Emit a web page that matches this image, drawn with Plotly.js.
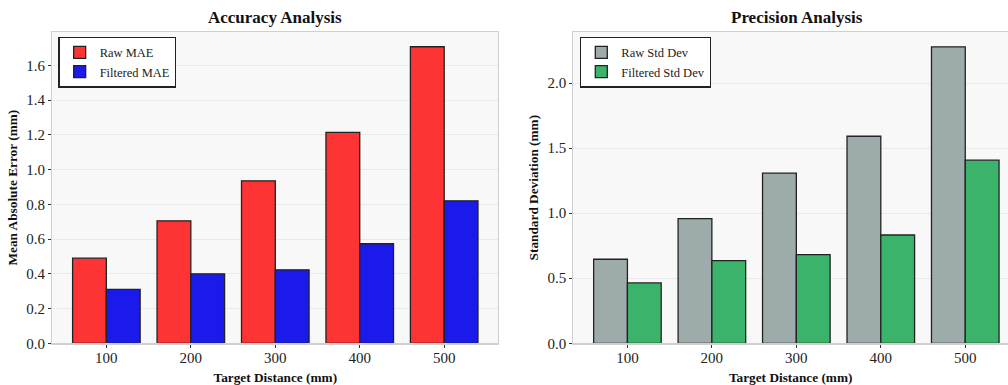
<!DOCTYPE html>
<html>
<head>
<meta charset="utf-8">
<script src="https://cdn.plot.ly/plotly-3.0.1.min.js"></script>
<style>html,body{margin:0;padding:0;background:#fff;}#chart{width:1008px;height:385px;}</style>
</head>
<body>
<div id="chart"></div>
<script>
const distances = ['100', '200', '300', '400', '500'];
const rawMAE = [0.49, 0.705, 0.935, 1.214, 1.707];
const filteredMAE = [0.31, 0.40, 0.423, 0.573, 0.82];
const rawStd = [0.646, 0.958, 1.307, 1.591, 2.278];
const filteredStd = [0.464, 0.636, 0.682, 0.832, 1.407];

const serif = 'Liberation Serif, Times New Roman, serif';
const edge = {color: '#222222', width: 1.3};

const traces = [
  {type: 'bar', name: 'Raw MAE', x: distances, y: rawMAE, xaxis: 'x', yaxis: 'y', legend: 'legend',
   marker: {color: '#fe3333', line: edge}},
  {type: 'bar', name: 'Filtered MAE', x: distances, y: filteredMAE, xaxis: 'x', yaxis: 'y', legend: 'legend',
   marker: {color: '#1a1aeb', line: edge}},
  {type: 'bar', name: 'Raw Std Dev', x: distances, y: rawStd, xaxis: 'x2', yaxis: 'y2', legend: 'legend2',
   marker: {color: '#9eabab', line: edge}},
  {type: 'bar', name: 'Filtered Std Dev', x: distances, y: filteredStd, xaxis: 'x2', yaxis: 'y2', legend: 'legend2',
   marker: {color: '#3bb36b', line: edge}}
];

const tickFont = {family: serif, size: 15, color: '#222'};
const axTitleFont = {family: serif, size: 13.3, color: '#111', weight: 'bold'};

function xAxis(domain, range, anchor) {
  return {
    domain: domain, range: range, anchor: anchor, type: 'category',
    showgrid: false, zeroline: false,
    showline: true, linecolor: '#cfcfcf', linewidth: 1.2, mirror: true,
    ticks: 'outside', ticklen: 3, tickcolor: '#333', tickwidth: 1,
    ticklabelstandoff: -3,
    tickfont: tickFont, fixedrange: true,
    title: {text: 'Target Distance (mm)', font: axTitleFont, standoff: 10}
  };
}
function yAxis(domain, range, dtick, anchor, title, mirror) {
  return {
    domain: domain, range: range, anchor: anchor, dtick: dtick, tickformat: '.1f',
    showgrid: true, gridcolor: '#e9e9e9', gridwidth: 1, zeroline: false,
    showline: true, linecolor: '#cfcfcf', linewidth: 1.2, mirror: mirror,
    ticks: 'outside', ticklen: 3, tickcolor: '#333', tickwidth: 1,
    tickfont: tickFont, fixedrange: true,
    title: {text: title, font: axTitleFont, standoff: 5}
  };
}

const yDom = [0.1083, 0.9169];
const layout = {
  width: 1008, height: 385,
  margin: {l: 0, r: 0, t: 0, b: 0},
  paper_bgcolor: '#ffffff', plot_bgcolor: '#f8f8f8',
  barmode: 'group', bargap: 0.2, bargroupgap: 0,
  showlegend: true,
  xaxis: xAxis([0.0519, 0.4943], [-0.64, 4.64], 'y'),
  yaxis: yAxis(yDom, [0, 1.792], 0.2, 'x', 'Mean Absolute Error (mm)', true),
  xaxis2: xAxis([0.5688, 1.0], [-0.64, 4.506], 'y2'),
  yaxis2: yAxis(yDom, [0, 2.392], 0.5, 'x2', 'Standard Deviation (mm)', false),
  legend: {x: 0.058, y: 0.905, xanchor: 'left', yanchor: 'top',
    bgcolor: '#ffffff', bordercolor: '#222', borderwidth: 1.2,
    font: {family: serif, size: 12.5, color: '#222'}, tracegroupgap: 0, itemwidth: 30},
  legend2: {x: 0.5755, y: 0.905, xanchor: 'left', yanchor: 'top',
    bgcolor: '#ffffff', bordercolor: '#222', borderwidth: 1.2,
    font: {family: serif, size: 12.5, color: '#222'}, tracegroupgap: 0, itemwidth: 30},
  annotations: [
    {text: 'Accuracy Analysis', xref: 'paper', yref: 'paper', x: 275 / 1008, y: 1 - 17 / 385,
     xanchor: 'center', yanchor: 'middle', showarrow: false,
     font: {family: serif, size: 17, color: '#111', weight: 'bold'}},
    {text: 'Precision Analysis', xref: 'paper', yref: 'paper', x: 797 / 1008, y: 1 - 17 / 385,
     xanchor: 'center', yanchor: 'middle', showarrow: false,
     font: {family: serif, size: 17, color: '#111', weight: 'bold'}}
  ]
};

Plotly.newPlot('chart', traces, layout, {displayModeBar: false, staticPlot: true});
</script>
</body>
</html>
